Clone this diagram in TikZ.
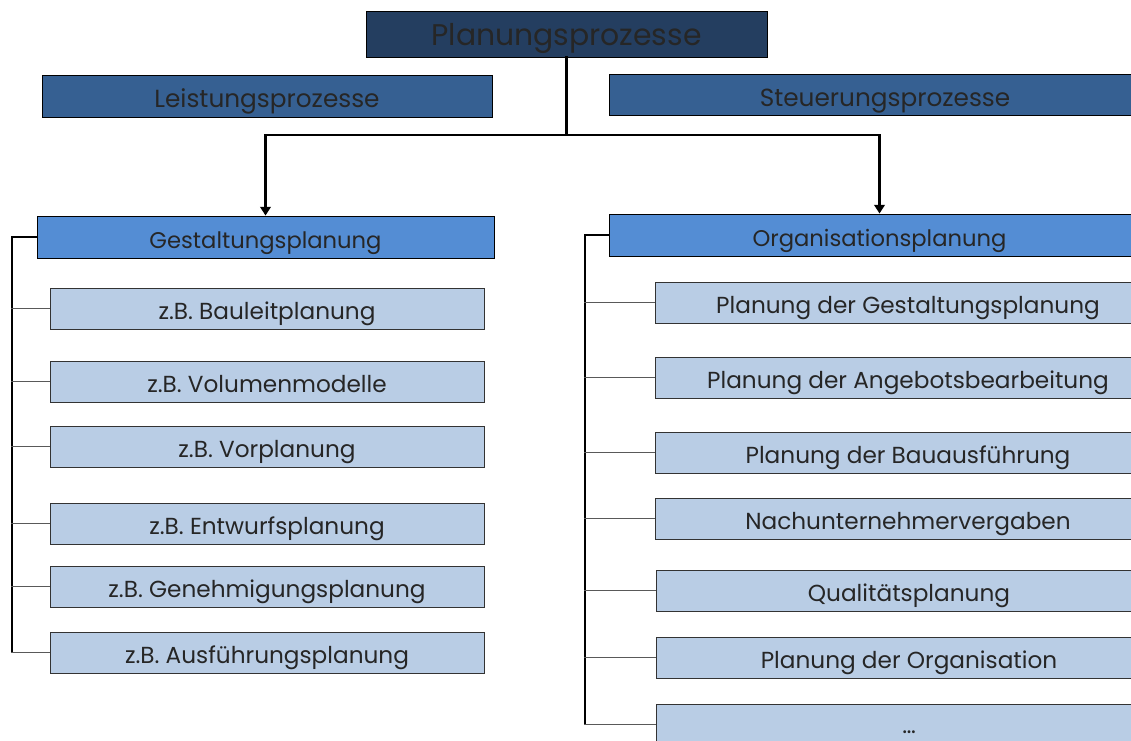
\documentclass[tikz,border=0pt]{standalone}
\usepackage{fontspec}
\setmainfont{Poppins}
\usetikzlibrary{arrows.meta}

\begin{document}
\begin{tikzpicture}
			[x=0.02cm,y=-0.02cm,line cap=rect,
			%Styles
			box/.style={draw=black,line width=.5pt,inner sep=0pt,text=black!85,text height=1.26em,text depth=0pt},
			top box/.style={box,fill=topblue,minimum width=8.02cm,minimum height=.92cm,font=\fontsize{17}{20}\selectfont},
			group box/.style={box,fill=groupblue,minimum height=.83cm,font=\fontsize{14.1}{17}\selectfont},
			plan box/.style={box,fill=planblue,minimum height=.84cm,font=\fontsize{12.9}{15}\selectfont},
			leaf/.style={box,draw=black!80,fill=leafblue,minimum height=.82cm,font=\fontsize{13.2}{16}\selectfont},
			left leaf/.style={leaf,minimum width=8.68cm},
			right leaf/.style={leaf,minimum width=10.12cm},
			main arrow/.style={line width=1.4pt,-{Triangle[width=6pt,length=5pt]}},
			bracket/.style={line width=1.1pt},
			twig/.style={line width=.8pt,black!65}
			]
			
			%Colors
			\definecolor{topblue}{RGB}{36,62,96}
			\definecolor{groupblue}{RGB}{54,96,146}
			\definecolor{planblue}{RGB}{84,141,212}
			\definecolor{leafblue}{RGB}{185,205,229}
			
			\clip (0,0) rectangle (1131,740);
			
			%The graphic
			\node[top box] (plan) at (566.5, 34) {Planungsprozesse};
			\node[group box,minimum width=9cm] (leist) at (267, 96.5) {Leistungsprozesse};
			\node[group box,minimum width=11.04cm] (steuer) at (885, 95) {Steuerungsprozesse};
			
			\node[plan box,minimum width=9.14cm] (gest) at (265.5, 237) {Gestaltungsplanung};
			\node[plan box,minimum width=10.82cm] (orga) at (879.5, 235) {Organisationsplanung};
			
			\node[left leaf] (bauleit) at (267, 308.5) {z.B. Bauleitplanung};
			\node[left leaf] (volumen) at (267, 381.5) {z.B. Volumenmodelle};
			\node[left leaf] (vorpl) at (267, 446.5) {z.B. Vorplanung};
			\node[left leaf] (entwurf) at (267, 523.5) {z.B. Entwurfsplanung};
			\node[left leaf] (genehm) at (267, 586.5) {z.B. Genehmigungsplanung};
			\node[left leaf] (ausf) at (267, 652.5) {z.B. Ausführungsplanung};
			
			\node[right leaf] (pgest) at (908, 302.5) {Planung der Gestaltungsplanung};
			\node[right leaf] (pangebot) at (908, 377.5) {Planung der Angebotsbearbeitung};
			\node[right leaf] (pbau) at (908, 452.5) {Planung der Bauausführung};
			\node[right leaf] (nachu) at (908, 518.5) {Nachunternehmervergaben};
			\node[right leaf] (quali) at (909, 590.5) {Qualitätsplanung};
			\node[right leaf] (porga) at (909, 657.5) {Planung der Organisation};
			\node[right leaf,text height=1em] (more) at (909, 724.5) {\dots};
			
			%Arrows
			\draw[line width=1.4pt] (plan.south) -- (566.5, 135) coordinate (fork);
			\draw[main arrow] (fork) -| (gest.north);
			\draw[main arrow] (fork) -| (orga.north);
			
			%Brackets
			\coordinate (lbar) at (12, 237);
			\coordinate (rbar) at (585, 235);
			\draw[bracket] (gest.west) -- (lbar) -- (lbar |- ausf.west);
			\draw[bracket] (orga.west) -- (rbar) -- (rbar |- more.west);
			\foreach \leaf in {bauleit,volumen,vorpl,entwurf,genehm,ausf}
				\draw[twig] (\leaf.west) -- (\leaf.west -| lbar);
			\foreach \leaf in {pgest,pangebot,pbau,nachu,quali,porga,more}
				\draw[twig] (\leaf.west) -- (\leaf.west -| rbar);
		\end{tikzpicture}
\end{document}
